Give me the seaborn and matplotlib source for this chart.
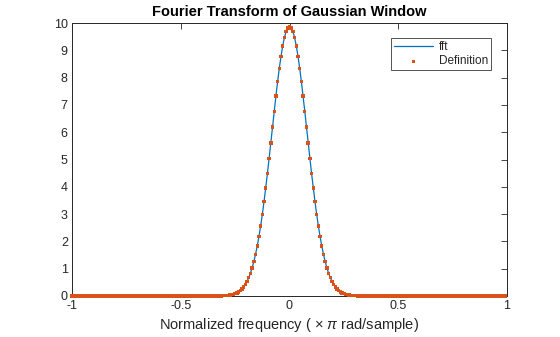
import numpy as np
import pandas as pd
import matplotlib
matplotlib.use("Agg")
import matplotlib.pyplot as plt
import seaborn as sns

title = "Fourier Transform of Gaussian Window"
x_label = r"Normalized frequency ( $\times$ $\pi$ rad/sample)"
legend_labels = ["fft", "Definition"]
x_ticks = [-1, -0.5, 0, 0.5, 1]
x_tick_labels = ["-1", "-0.5", "0", "0.5", "1"]
y_ticks = [0, 1, 2, 3, 4, 5, 6, 7, 8, 9, 10]

# 256 frequency bins (x pi rad/sample), from -1 to 1 - 1/128
freq_bins = np.arange(-128, 128) / 128.0

left_tail = [
    0, 0, 0, 0, 0, 0, 0, 0, 0, 0, 0,
    0, 0, 0, 0, 0, 0, 0, 0, 0, 0, 0,
    0, 0, 0, 0, 0, 0, 0, 0, 0, 0, 0,
    0, 0, 0, 0, 0, 0, 0, 0, 0, 0, 0,
    0, 0, 0, 0, 0, 0, 0, 0, 0, 0, 0,
    0, 0, 0, 0, 0, 0, 0, 0, 0, 0, 0,
    0, 0, 0, 0, 0, 0, 0, 0, 0, 0, 0,
    0, 0, 0, 0, 0, 0, 0, 0, 0, 0, 0,
]
center_peak = [
    0.006, 0.008, 0.012, 0.017, 0.023, 0.032, 0.045, 0.061, 0.083, 0.111,
    0.148, 0.194, 0.254, 0.328, 0.420, 0.533, 0.670, 0.835, 1.030, 1.259,
    1.525, 1.829, 2.174, 2.560, 2.986, 3.451, 3.952, 4.483, 5.038, 5.609,
    6.187, 6.761, 7.320, 7.851, 8.343, 8.782, 9.159, 9.464, 9.687, 9.824,
    9.870,
    9.824, 9.687, 9.464, 9.159, 8.782, 8.343, 7.851, 7.320, 6.761, 6.187,
    5.609, 5.038, 4.483, 3.952, 3.451, 2.986, 2.560, 2.174, 1.829, 1.525,
    1.259, 1.030, 0.835, 0.670, 0.533, 0.420, 0.328, 0.254, 0.194, 0.148,
    0.111, 0.083, 0.061, 0.045, 0.032, 0.023, 0.017, 0.012, 0.008, 0.006,
]
right_tail = [
    0, 0, 0, 0, 0, 0, 0, 0, 0, 0, 0,
    0, 0, 0, 0, 0, 0, 0, 0, 0, 0, 0,
    0, 0, 0, 0, 0, 0, 0, 0, 0, 0, 0,
    0, 0, 0, 0, 0, 0, 0, 0, 0, 0, 0,
    0, 0, 0, 0, 0, 0, 0, 0, 0, 0, 0,
    0, 0, 0, 0, 0, 0, 0, 0, 0, 0, 0,
    0, 0, 0, 0, 0, 0, 0, 0, 0, 0, 0,
    0, 0, 0, 0, 0, 0, 0, 0, 0, 0,
]
fft_magnitude = left_tail + center_peak + right_tail
definition_magnitude = left_tail + center_peak + right_tail
assert len(fft_magnitude) == len(freq_bins)

df = pd.DataFrame({"freq": freq_bins, "fft": fft_magnitude,
                   "definition": definition_magnitude})

sns.set_style("white")
plt.rcParams["font.family"] = ["Liberation Sans", "DejaVu Sans"]
plt.rcParams["mathtext.fontset"] = "custom"
plt.rcParams["mathtext.rm"] = "Liberation Sans"
plt.rcParams["mathtext.it"] = "Liberation Sans:italic"

blue = "#0072BD"
orange = "#D95319"
axcol = "#262626"

fig = plt.figure(figsize=(5.6, 3.37), dpi=100)
ax = fig.add_axes([72 / 560, 1 - 296 / 337, 435 / 560, 273 / 337])

sns.lineplot(data=df, x="freq", y="fft", ax=ax, color=blue, linewidth=0.9,
             label=legend_labels[0], zorder=2)
sns.scatterplot(data=df, x="freq", y="definition", ax=ax, color=orange,
                marker="s", s=6, linewidth=0, edgecolor="none",
                label=legend_labels[1], zorder=3, clip_on=False)

ax.set_xlim(-1, 1)
ax.set_ylim(0, 10)
ax.set_xticks(x_ticks)
ax.set_xticklabels(x_tick_labels)
ax.set_yticks(y_ticks)
ax.tick_params(direction="in", top=True, right=True, length=4, width=0.6,
               colors=axcol, labelsize=9, pad=3)
for sp in ax.spines.values():
    sp.set_color(axcol)
    sp.set_linewidth(0.7)
    sp.set_zorder(1)
ax.set_xlabel(x_label, fontsize=10.5, color=axcol, labelpad=3)
ax.set_ylabel("")
ax.set_title(title, fontsize=10.5, fontweight="bold", color="black", pad=5)

leg = ax.legend(loc="upper right", bbox_to_anchor=((491 - 72) / 435, (296 - 38) / 273),
                fontsize=8.5, frameon=True, fancybox=False, borderaxespad=0,
                handlelength=3.3, handletextpad=0.5, borderpad=0.25,
                labelspacing=0.2, markerscale=0.9)
leg.get_frame().set_edgecolor(axcol)
leg.get_frame().set_linewidth(0.7)

fig.savefig("out.png", dpi=100)
